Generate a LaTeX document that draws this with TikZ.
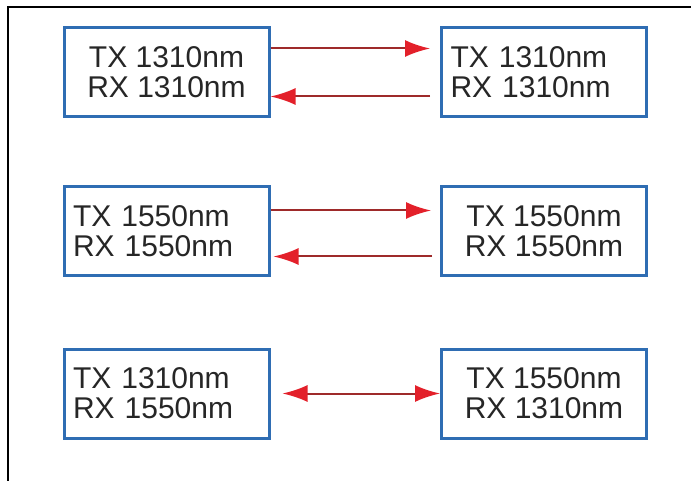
\documentclass[tikz,border=0pt]{standalone}
\usepackage{fontspec}
\setmainfont{Liberation Sans}
\usetikzlibrary{arrows.meta}

\definecolor{boxblue}{HTML}{2F6DB3}
\definecolor{fiberred}{HTML}{9E2A2A}
\definecolor{headred}{HTML}{E3202A}

\begin{document}
\begin{tikzpicture}[
    x=1pt, y=-1pt,
    xcvr/.style={draw=boxblue, line width=3pt, fill=white,
        minimum width=205pt, minimum height=89pt, inner sep=0pt,
        align=center, text=black!85, font=\fontsize{30}{30}\selectfont},
    xcvr-l/.style={xcvr, text width=187pt, align=left},
    fiber/.style={draw=fiberred, line width=2pt,
        -{Latex[length=25pt, width=17pt, color=headred]}},
    duplex/.style={draw=fiberred, line width=2pt,
        {Latex[length=25pt, width=17pt, color=headred]}-{Latex[length=25pt, width=17pt, color=headred]}},
]
\useasboundingbox (0,0) rectangle (691,481);

% Page frame (top and left edges only)
\draw[line width=2pt] (8,481) -- (8,7) -- (691,7);

% =============================================================================
% Row 1: 1310nm on both ends
% =============================================================================
\node[xcvr] (siteA1) at (166.5, 72.5) {TX 1310nm\\RX 1310nm};
\node[xcvr-l] (siteB1) at (544, 72.5) {TX 1310nm\\RX 1310nm};

\draw[fiber, shorten >=10pt] ([yshift=-22pt]siteA1.north east) -- ([yshift=-22pt]siteB1.north west);
\draw[fiber, shorten <=10pt] ([yshift=-70pt]siteB1.north west) -- ([yshift=-70pt]siteA1.north east);

% =============================================================================
% Row 2: 1550nm on both ends
% =============================================================================
\node[xcvr-l] (siteA2) at (166.5, 231.5) {TX 1550nm\\RX 1550nm};
\node[xcvr] (siteB2) at (544, 231.5) {TX 1550nm\\RX 1550nm};

\draw[fiber, shorten >=9pt] ([yshift=-25pt]siteA2.north east) -- ([yshift=-25pt]siteB2.north west);
\draw[fiber, shorten <=8pt, shorten >=3pt] ([yshift=-71pt]siteB2.north west) -- ([yshift=-71pt]siteA2.north east);

% =============================================================================
% Row 3: crossed wavelengths on a single fiber
% =============================================================================
\node[xcvr-l] (siteA3) at (166.5, 393.5) {TX 1310nm\\RX 1550nm};
\node[xcvr] (siteB3) at (544, 393.5) {TX 1550nm\\RX 1310nm};

\draw[duplex, shorten <=12pt] (siteA3.east) -- (siteB3.west);

\end{tikzpicture}
\end{document}
